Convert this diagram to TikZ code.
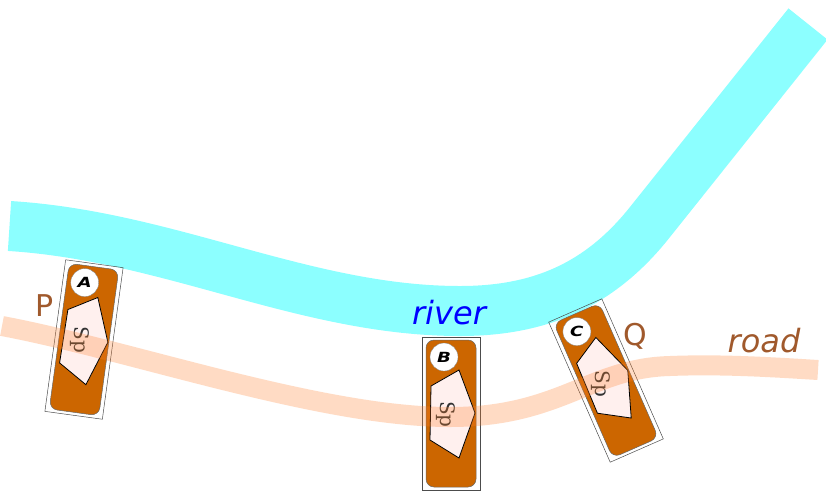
\documentclass[tikz,border=0pt]{standalone}
\usepackage{fontspec}
\setmainfont{DejaVu Sans}
\newfontfamily\spfont{DejaVu Serif}
\definecolor{riverblue}{HTML}{8CFFFF}
\definecolor{roadorange}{HTML}{FF7F2A}
\definecolor{blockbrown}{HTML}{CC6600}
\definecolor{labelbrown}{HTML}{A0592C}
\definecolor{roofpink}{HTML}{FFF0EE}
\tikzset{
  label text/.style={text=labelbrown,font=\fontsize{30}{30}\selectfont,inner sep=0pt},
  frame line/.style={draw=black!70,line width=0.5pt},
  block body/.style={fill=blockbrown,draw=black!60,line width=0.5pt,rounded corners=8pt},
  roof line/.style={fill=roofpink,draw=black,line width=0.8pt,line join=miter},
  badge/.style={circle,fill=white,draw=black!50,line width=0.3pt,minimum size=28pt,inner sep=0pt,
    font=\fontsize{14}{14}\selectfont\bfseries\itshape},
  sp text/.style={text=black!80,font=\fontsize{20}{20}\selectfont\spfont,rotate=-90,inner sep=0pt}
}

\begin{document}
\begin{tikzpicture}[x=1pt,y=-1pt]
  \useasboundingbox (0,0) rectangle (826,491);

  % river
  \draw[riverblue,line width=50pt] (9.5,226) .. controls (170,236) and (305,311) .. (460,311)
    .. controls (540,311) and (600,285) .. (650,222) -- (808,24);

  % block A
  \begin{scope}[shift={(84,339.5)},rotate=-7.8]
    \draw[frame line] (-29,-76.5) rectangle (29,76.5);
    \draw[block body] (-25,-73.5) rectangle (25,73.5);
    \node[badge] (badgeA) at (-7,-56.5) {\scalebox{1.3}[1]{A}};
    \draw[roof line] (-20,-27.5) -- (8,-43.5) -- (24,-0.5) -- (8,44.5) -- (-21,26.5) -- cycle;
    \node[sp text] (spA) at (-4,1) {Sp};
  \end{scope}

  % block B
  \begin{scope}[shift={(451,413.5)}]
    \draw[frame line] (-29,-76.5) rectangle (29,76.5);
    \draw[block body] (-25,-73.5) rectangle (25,73.5);
    \node[badge] (badgeB) at (-7,-56.5) {\scalebox{1.3}[1]{B}};
    \draw[roof line] (-20,-27.5) -- (8,-43.5) -- (24,-0.5) -- (8,44.5) -- (-21,26.5) -- cycle;
    \node[sp text] (spB) at (-5,1) {Sp};
  \end{scope}

  % block C
  \begin{scope}[shift={(606,380.5)},rotate=23.7]
    \draw[frame line] (-29,-76.5) rectangle (29,76.5);
    \draw[block body] (-25,-73.5) rectangle (25,73.5);
    \node[badge] (badgeC) at (-7,-56.5) {\scalebox{1.3}[1]{C}};
    \draw[roof line] (-20,-27.5) -- (8,-43.5) -- (24,-0.5) -- (8,44.5) -- (-21,26.5) -- cycle;
    \node[sp text] (spC) at (-6,1) {Sp};
  \end{scope}

  % road
  \draw[roadorange,opacity=0.28,line width=20pt] (2,326) .. controls (130,350) and (320,417) .. (450,417)
    .. controls (560,417) and (590,368) .. (670,366) .. controls (720,364) and (770,367) .. (818,370);

  \node[label text] (labelP) at (45,306) {P};
  \node[label text] (labelQ) at (635,336) {Q};
  \node[label text,font=\fontsize{32}{32}\selectfont\itshape] (labelRoad) at (764,341) {road};
  \node[label text,text=blue,font=\fontsize{32}{32}\selectfont\itshape] (labelRiver) at (449,313) {river};
\end{tikzpicture}
\end{document}
